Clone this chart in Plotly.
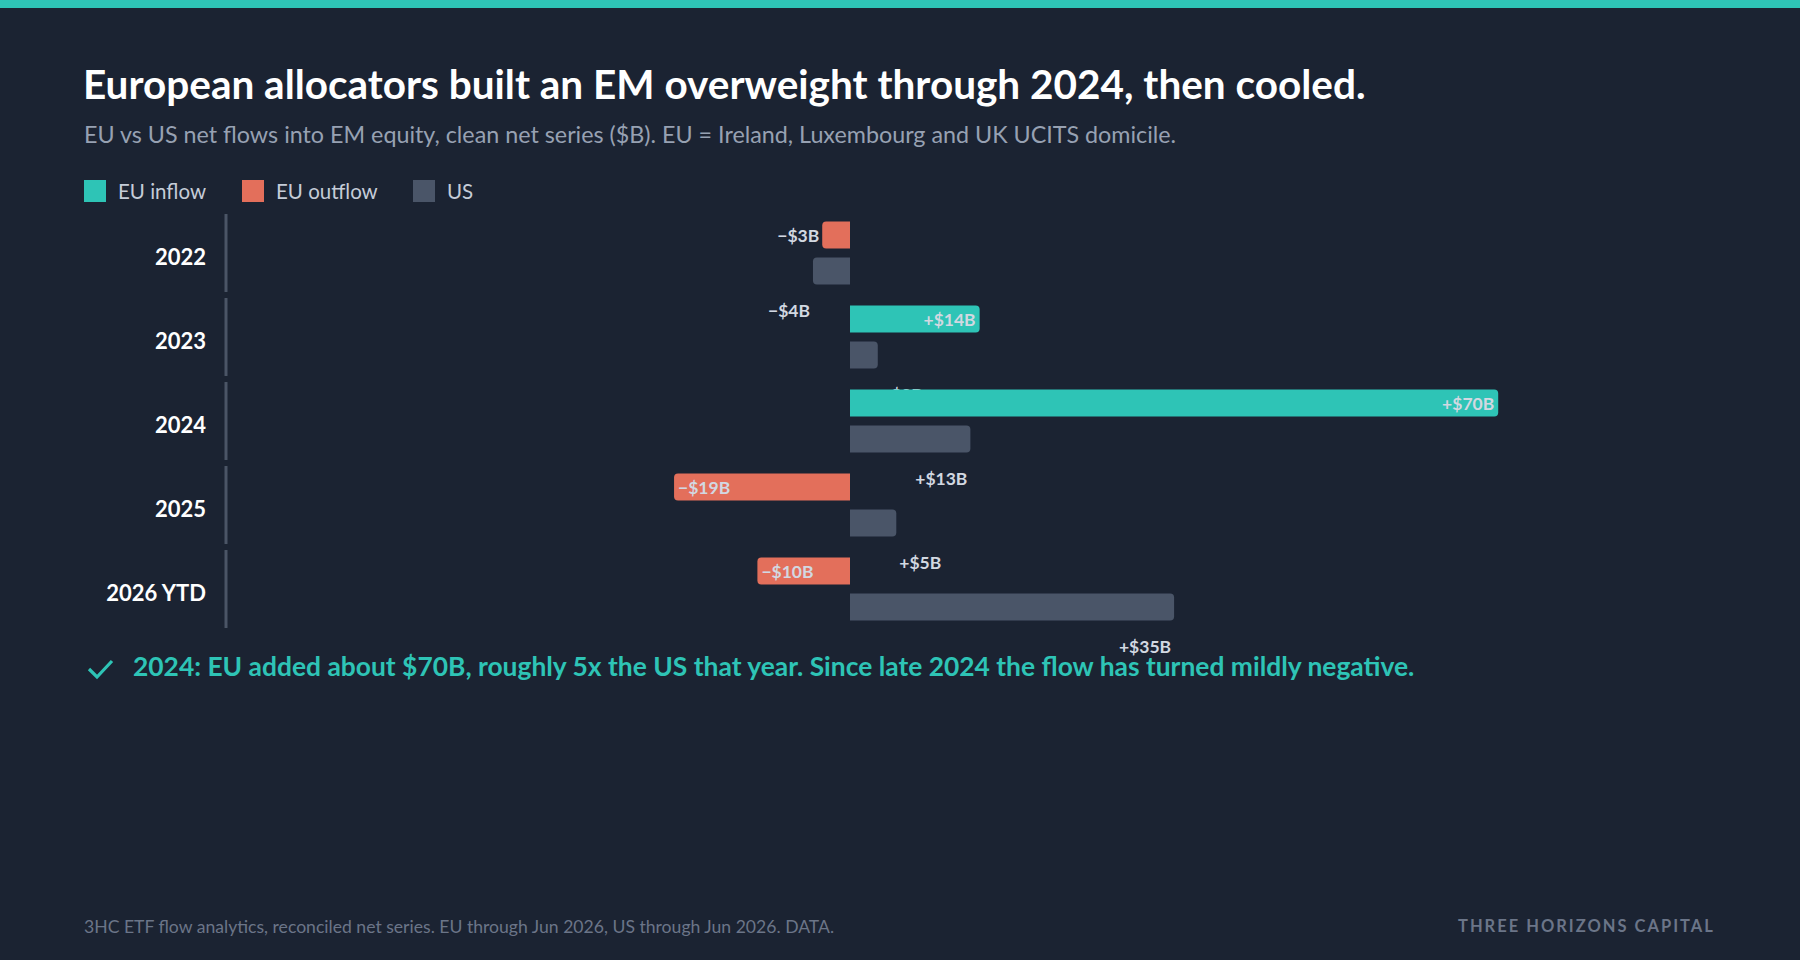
import plotly.graph_objects as go

# ---------------- data ----------------
categories = ["2022", "2023", "2024", "2025", "2026 YTD"]
eu_values = [-3, 14, 70, -19, -10]
us_values = [-4, 3, 13, 5, 35]

title_text = "European allocators built an EM overweight through 2024, then cooled."
subtitle_text = ("EU vs US net flows into EM equity, clean net series ($B). "
                 "EU = Ireland, Luxembourg and UK UCITS domicile.")
callout_text = ("2024: EU added about $70B, roughly 5x the US that year. "
                "Since late 2024 the flow has turned mildly negative.")
footer_text = "3HC ETF flow analytics, reconciled net series. EU through Jun 2026, US through Jun 2026. DATA."
brand_text = "THREE HORIZONS CAPITAL"
legend_names = ["EU inflow", "EU outflow", "US"]

# ---------------- style ----------------
BG = "#1b2332"
TEAL = "#2ec4b6"
CORAL = "#e36f5b"
SLATE = "#4a5568"
LABEL = "#d2d8e1"
FONT = "Lato"
LBL_SIZE = 17.5

W, H = 1800, 960
L, R, T = 226, 1716, 211
PLOT_B = 631          # bottom of the bar area
PAPER_B = 680         # bottom of the paper region (label layer extends here)
PW, PH = R - L, PAPER_B - T
ROW_PX = (PLOT_B - T) / len(categories)
ZERO_PX, SCALE = 850, 9.26


def px(x):
    return (x - L) / PW


def py(y):
    return (PAPER_B - y) / PH


def fmt(v):
    return ("+" if v > 0 else "\u2212") + f"${abs(v)}B"


eu_colors = [TEAL if v >= 0 else CORAL for v in eu_values]
lbl_font = dict(family=FONT, size=LBL_SIZE, color=LABEL, weight="bold")
x_range = [(L - ZERO_PX) / SCALE, (R - ZERO_PX) / SCALE]

fig = go.Figure()

# label carrier for US series on an underlying subplot (drawn beneath the bars)
fig.add_trace(go.Bar(
    y=list(range(len(categories))), x=us_values, orientation="h",
    xaxis="x", yaxis="y",
    offset=0.524, width=0.321,
    marker=dict(color="rgba(0,0,0,0)", line=dict(width=0)),
    text=[fmt(v) for v in us_values], textposition="auto",
    insidetextanchor="end", constraintext="none",
    insidetextfont=lbl_font, outsidetextfont=lbl_font,
    cliponaxis=False, hoverinfo="skip", showlegend=False,
))

fig.add_trace(go.Bar(
    y=categories, x=eu_values, orientation="h", name="EU",
    xaxis="x2", yaxis="y2",
    marker=dict(color=eu_colors, cornerradius=4, line=dict(width=0)),
    text=[fmt(v) for v in eu_values], textposition="auto",
    insidetextanchor="end", constraintext="none",
    insidetextfont=lbl_font, outsidetextfont=lbl_font,
    cliponaxis=False, showlegend=False,
))

fig.add_trace(go.Bar(
    y=categories, x=us_values, orientation="h", name="US",
    xaxis="x2", yaxis="y2",
    marker=dict(color=SLATE, cornerradius=4, line=dict(width=0)),
    textposition="none", showlegend=False,
))

shapes = []
annotations = []

# top accent band
shapes.append(dict(type="rect", xref="paper", yref="paper",
                   x0=px(0), x1=px(W), y0=py(8), y1=py(0),
                   fillcolor=TEAL, line=dict(width=0), layer="below"))

# row separators on the left
for i in range(len(categories)):
    shapes.append(dict(type="line", xref="paper", yref="y2",
                       x0=0, x1=0, y0=i - 0.464, y1=i + 0.464,
                       line=dict(color="#4b5566", width=3)))

# legend
legend_colors = [TEAL, CORAL, SLATE]
legend_sq = [84, 242, 413]
for name, col, sx in zip(legend_names, legend_colors, legend_sq):
    shapes.append(dict(type="rect", xref="paper", yref="paper",
                       x0=px(sx), x1=px(sx + 22), y0=py(202), y1=py(180),
                       fillcolor=col, line=dict(width=0)))
    annotations.append(dict(text=name, xref="paper", yref="paper",
                            x=px(sx + 32), y=py(191), xanchor="left", yanchor="middle",
                            showarrow=False,
                            font=dict(family=FONT, size=20.5, color="#c5ccd8")))

# check mark
chk = [(89, 669), (97, 677), (112, 661)]
path = "M" + " L".join(f"{px(a)},{py(b)}" for a, b in chk)
shapes.append(dict(type="path", xref="paper", yref="paper", path=path,
                   line=dict(color=TEAL, width=3.2)))

annotations += [
    dict(text=title_text, xref="paper", yref="paper", x=px(81), y=py(83),
         xanchor="left", yanchor="middle", showarrow=False,
         font=dict(family=FONT, size=40.5, color="#ffffff", weight="bold")),
    dict(text=subtitle_text, xref="paper", yref="paper", x=px(82), y=py(134),
         xanchor="left", yanchor="middle", showarrow=False,
         font=dict(family=FONT, size=23.3, color="#97a1b2")),
    dict(text=callout_text, xref="paper", yref="paper", x=px(131), y=py(666),
         xanchor="left", yanchor="middle", showarrow=False,
         font=dict(family=FONT, size=26.4, color=TEAL, weight="bold")),
    dict(text=footer_text, xref="paper", yref="paper", x=px(82), y=py(926),
         xanchor="left", yanchor="middle", showarrow=False,
         font=dict(family=FONT, size=17.6, color="#6b7588")),
    dict(text=f'<span style="letter-spacing:2px">{brand_text}</span>',
         xref="paper", yref="paper", x=px(1717), y=py(926),
         xanchor="right", yanchor="middle", showarrow=False,
         font=dict(family=FONT, size=16.5, color="#6b7588", weight="bold")),
]

hidden_x = dict(range=x_range, domain=[0, 1], showgrid=False, zeroline=False,
                showticklabels=False, showline=False, ticks="", fixedrange=True)

fig.update_layout(
    width=W, height=H,
    paper_bgcolor=BG, plot_bgcolor="rgba(0,0,0,0)",
    margin=dict(l=L, r=W - R, t=T, b=H - PAPER_B, pad=0),
    barmode="group", bargap=0.143, bargroupgap=0.25,
    showlegend=False,
    font=dict(family=FONT, color="#ffffff"),
    xaxis=dict(hidden_x, anchor="y"),
    yaxis=dict(domain=[0, 1], anchor="x",
               range=[-0.5 + PH / ROW_PX, -0.5], autorange=False,
               showgrid=False, zeroline=False, showticklabels=False,
               showline=False, ticks="", fixedrange=True),
    xaxis2=dict(hidden_x, anchor="y2"),
    yaxis2=dict(type="category", categoryorder="array", categoryarray=categories,
                domain=[(PAPER_B - PLOT_B) / PH, 1], anchor="x2",
                range=[len(categories) - 0.5, -0.5], autorange=False,
                showgrid=False, zeroline=False,
                showline=False, ticks="", ticklabelstandoff=19, ticklabelshift=-4,
                tickfont=dict(family=FONT, size=22, color="#ffffff", weight="bold"),
                fixedrange=True),
    shapes=shapes, annotations=annotations,
    hovermode=False,
)

fig.write_html("out.html")
